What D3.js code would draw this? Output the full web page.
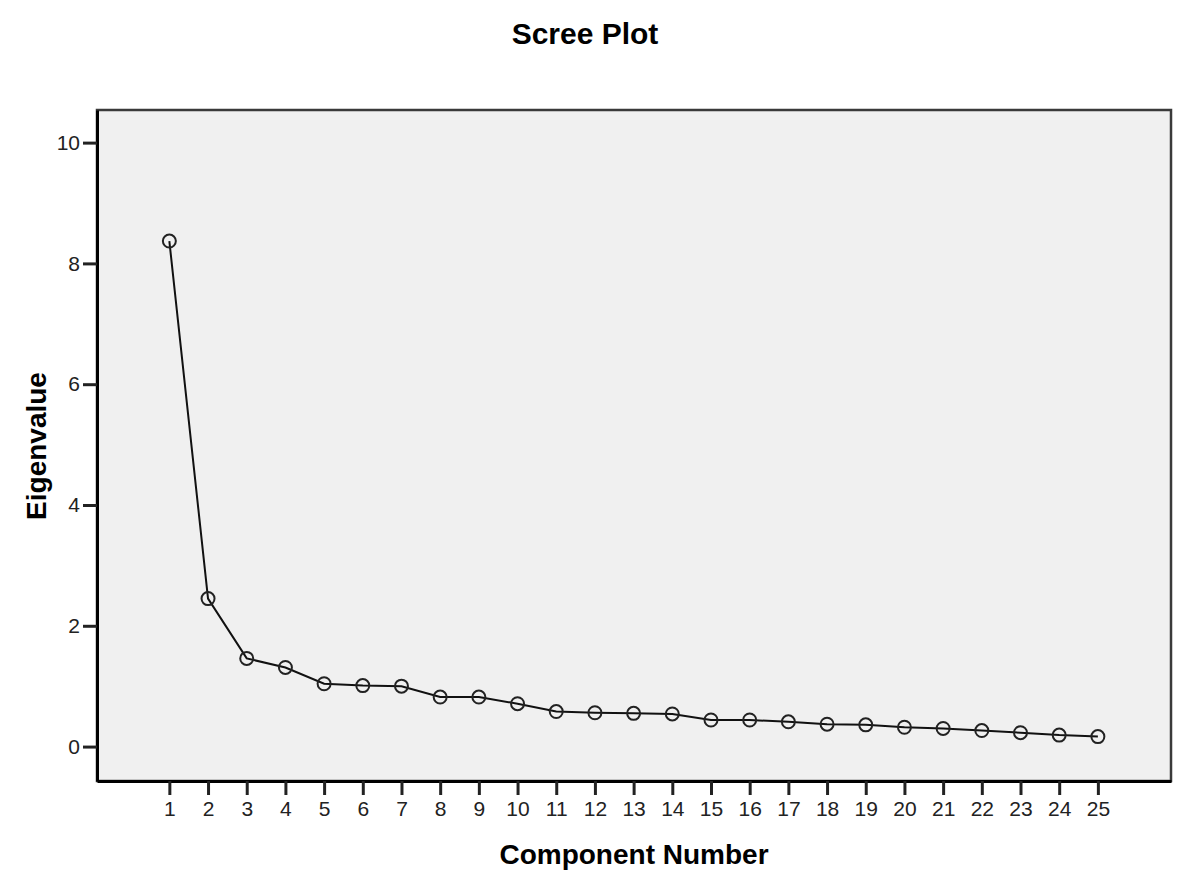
<!DOCTYPE html>
<html>
<head>
<meta charset="utf-8">
<script src="https://cdn.jsdelivr.net/npm/d3@7"></script>
<style>
  body { margin: 0; background: #fff; }
  svg { display: block; font-family: "Liberation Sans", Arial, sans-serif; }
</style>
</head>
<body>
<div id="chart"></div>
<script>
// component numbers and their eigenvalues
const components = d3.range(1, 26);
const eigenvalues = [8.37, 2.45, 1.46, 1.31, 1.04, 1.01, 1.00, 0.82, 0.82, 0.71,
                     0.58, 0.56, 0.55, 0.54, 0.44, 0.44, 0.41, 0.37, 0.36, 0.32,
                     0.30, 0.265, 0.23, 0.19, 0.165];
const yTicks = [0, 2, 4, 6, 8, 10];

const width = 1200, height = 878;
const plot = {left: 97, right: 1171, top: 110, bottom: 781};

const svg = d3.select("#chart").append("svg")
    .attr("width", width)
    .attr("height", height);

const x = d3.scaleLinear().domain([1 - 1.87, 25 + 1.89]).range([plot.left, plot.right]);
const y = d3.scaleLinear().domain([-0.57, 10.54]).range([plot.bottom, plot.top]);

// plot background + frame
svg.append("rect")
    .attr("x", plot.left).attr("y", plot.top)
    .attr("width", plot.right - plot.left)
    .attr("height", plot.bottom - plot.top)
    .attr("fill", "#f0f0f0")
    .attr("stroke", "#3a3a3a")
    .attr("stroke-width", 2.5);

// axes
const yAxis = svg.append("g")
    .attr("transform", "translate(" + plot.left + ",0)")
    .call(d3.axisLeft(y).tickValues(yTicks).tickSizeInner(14).tickSizeOuter(0)
      .tickPadding(3).tickFormat(d3.format("d")));

const xAxis = svg.append("g")
    .attr("transform", "translate(0," + plot.bottom + ")")
    .call(d3.axisBottom(x).tickValues(components).tickSizeInner(14).tickSizeOuter(0)
      .tickPadding(6).tickFormat(d3.format("d")));

[yAxis, xAxis].forEach(function(g) {
  g.attr("font-size", 21);
  g.select(".domain").attr("stroke", "#000").attr("stroke-width", 3);
  g.selectAll(".tick line").attr("stroke", "#222").attr("stroke-width", 3);
  g.selectAll(".tick text")
    .attr("fill", "#222")
    .style("font-size", "21px")
    .attr("font-family", "Liberation Sans, Arial, sans-serif");
});

// scree line
const line = d3.line()
    .x(function(d, i) { return x(components[i]); })
    .y(function(d) { return y(d); });

svg.append("path")
    .datum(eigenvalues)
    .attr("d", line)
    .attr("fill", "none")
    .attr("stroke", "#111")
    .attr("stroke-width", 2);

svg.selectAll("circle.pt")
    .data(eigenvalues)
    .enter()
    .append("circle")
    .attr("class", "pt")
    .attr("cx", function(d, i) { return x(components[i]); })
    .attr("cy", function(d) { return y(d); })
    .attr("r", 6.5)
    .attr("fill", "none")
    .attr("stroke", "#222")
    .attr("stroke-width", 2);

// titles
svg.append("text")
    .attr("x", 585).attr("y", 44)
    .attr("text-anchor", "middle")
    .attr("font-size", 30)
    .attr("font-weight", "bold")
    .text("Scree Plot");

svg.append("text")
    .attr("x", (plot.left + plot.right) / 2).attr("y", 864)
    .attr("text-anchor", "middle")
    .attr("font-size", 28)
    .attr("font-weight", "bold")
    .text("Component Number");

svg.append("text")
    .attr("transform", "translate(46,446) rotate(-90)")
    .attr("text-anchor", "middle")
    .attr("font-size", 28)
    .attr("font-weight", "bold")
    .text("Eigenvalue");
</script>
</body>
</html>
